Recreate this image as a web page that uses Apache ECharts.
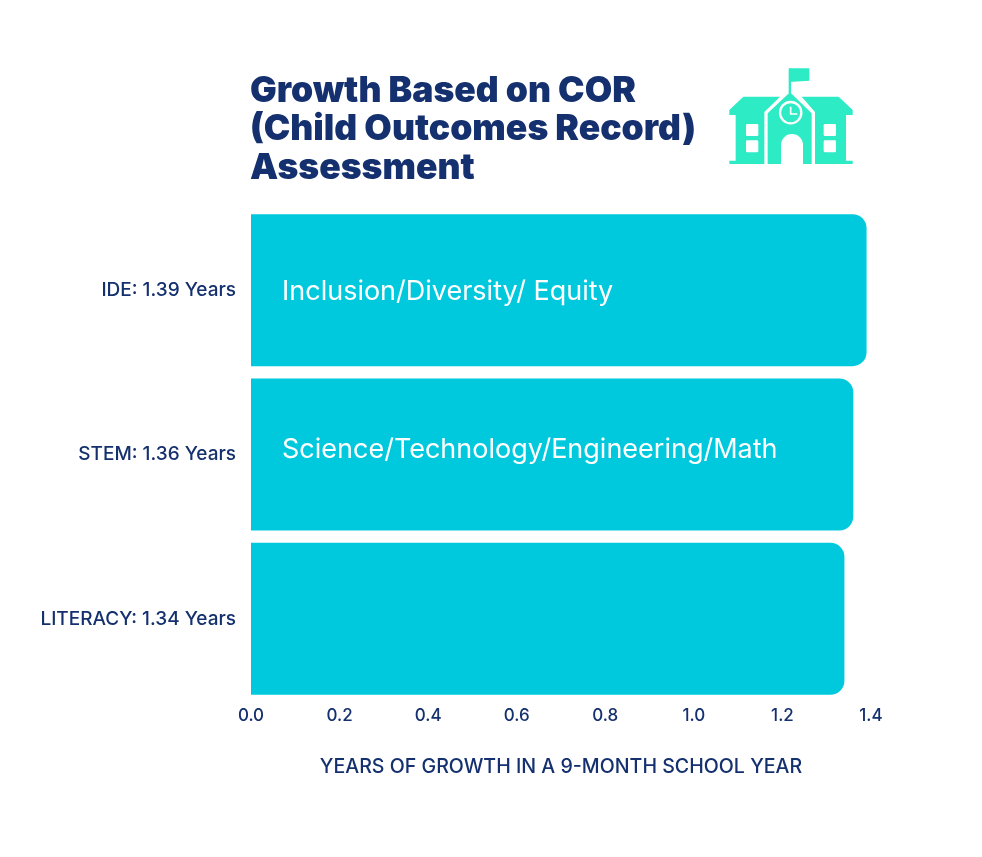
<!DOCTYPE html>
<html>
<head>
<meta charset="utf-8">
<style>
  html, body { margin: 0; padding: 0; background: #fff; }
  #chart { width: 982px; height: 857px; }
</style>
<script src="https://cdn.jsdelivr.net/npm/echarts@6/dist/echarts.min.js"></script>
</head>
<body>
<div id="chart"></div>
<script>
var categories = ['IDE: 1.39 Years', 'STEM: 1.36 Years', 'LITERACY: 1.34 Years'];
var values = [1.39, 1.36, 1.34];
var barTexts = ['Inclusion/Diversity/ Equity', 'Science/Technology/Engineering/Math', ''];
var barTextOffsets = [2, -5, 0];
var titleText = 'Growth Based on COR\n(Child Outcomes Record)\nAssessment';
var xName = 'YEARS OF GROWTH IN A 9-MONTH SCHOOL YEAR';

var navy = '#14306e';
var teal = '#00c9dd';
var iconColor = '#2cebc5';
var fontName = 'Inter';

var myChart = echarts.init(document.getElementById('chart'));

var barData = [];
for (var i = 0; i < values.length; i++) {
  barData.push({
    value: values[i],
    label: { formatter: barTexts[i], offset: [0, barTextOffsets[i]] }
  });
}

// school icon, drawn in the coordinates of the 3x zoom
function poly(points, fill) {
  return { type: 'polygon', shape: { points: points }, style: { fill: fill } };
}
function rect(x, y, w, h, fill) {
  return { type: 'rect', shape: { x: x, y: y, width: w, height: h, r: 4 }, style: { fill: fill } };
}
var icon = [
  // flag
  poly([[208, 25], [268, 25], [268, 62], [208, 66]], iconColor),
  rect(206, 25, 7, 75, iconColor),
  // wings
  poly([[28, 150], [70, 110], [180, 110], [133, 156], [133, 312], [28, 312], [28, 302], [47, 302], [47, 165], [28, 165]], iconColor),
  poly([[398, 150], [356, 110], [245, 110], [285, 156], [285, 312], [398, 312], [398, 302], [378, 302], [378, 165], [398, 165]], iconColor),
  // centre
  poly([[143, 160], [210, 97], [275, 160], [275, 312], [143, 312]], iconColor),
  // windows
  rect(78, 192, 37, 36, '#fff'), rect(78, 241, 37, 36, '#fff'),
  rect(311, 192, 37, 36, '#fff'), rect(311, 241, 37, 36, '#fff'),
  // door
  { type: 'circle', shape: { cx: 216, cy: 255, r: 33 }, style: { fill: '#fff' } },
  { type: 'rect', shape: { x: 183, y: 255, width: 66, height: 57 }, style: { fill: '#fff' } },
  // clock
  { type: 'circle', shape: { cx: 212, cy: 158, r: 32 }, style: { fill: iconColor, stroke: '#fff', lineWidth: 7 } },
  { type: 'polyline', shape: { points: [[212, 140], [212, 162], [232, 162]] }, style: { stroke: '#fff', lineWidth: 5, fill: 'none' } }
];

var option = {
  backgroundColor: '#fff',
  animation: false,
  textStyle: { fontFamily: fontName },
  title: {
    text: titleText,
    left: 250,
    top: 72,
    padding: 0,
    textStyle: {
      color: navy,
      fontFamily: fontName,
      fontSize: 35.5,
      fontWeight: 900,
      lineHeight: 38.5
    }
  },
  grid: { left: 251, right: 111, top: 208, bottom: 156 },
  xAxis: {
    type: 'value',
    min: 0,
    max: 1.4,
    interval: 0.2,
    name: xName,
    nameLocation: 'middle',
    nameGap: 56,
    nameTextStyle: { color: navy, fontSize: 19.6, fontWeight: 500, fontFamily: fontName },
    axisLine: { show: false },
    axisTick: { show: false },
    splitLine: { show: false },
    axisLabel: {
      color: navy,
      fontSize: 17,
      fontWeight: 500,
      margin: 6,
      hideOverlap: false,
      formatter: function (v) { return v.toFixed(1); }
    }
  },
  yAxis: {
    type: 'category',
    inverse: true,
    data: categories,
    axisLine: { show: false },
    axisTick: { show: false },
    splitLine: { show: false },
    axisLabel: { color: navy, fontSize: 19, fontWeight: 500, margin: 15 }
  },
  series: [{
    type: 'bar',
    data: barData,
    barWidth: 152,
    itemStyle: { color: teal, borderRadius: [0, 14, 14, 0] },
    label: {
      show: true,
      position: 'insideLeft',
      distance: 31,
      color: '#fff',
      fontSize: 27,
      fontWeight: 400
    }
  }],
  graphic: [{
    type: 'group',
    x: 720,
    y: 60,
    scaleX: 1 / 3,
    scaleY: 1 / 3,
    children: icon
  }]
};

myChart.setOption(option);
</script>
</body>
</html>
